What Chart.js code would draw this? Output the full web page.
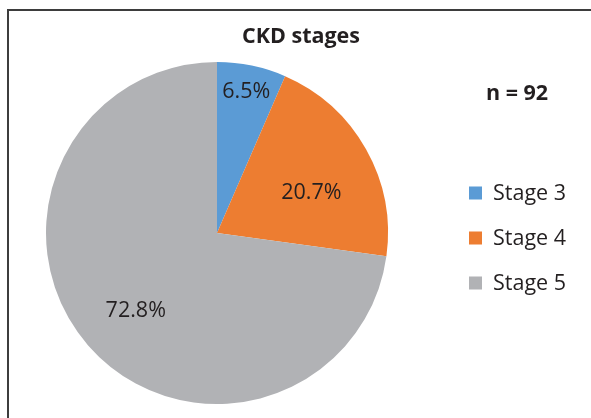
<!DOCTYPE html>
<html>
<head>
<meta charset="utf-8">
<script src="https://cdn.jsdelivr.net/npm/chart.js@4"></script>
<style>
  html, body { margin: 0; padding: 0; background: #fff; }
  #wrap { width: 591px; height: 418px; }
</style>
</head>
<body>
<div id="wrap"><canvas id="myChart" width="591" height="418"></canvas></div>
<script>
// CKD stages, n = 92
var stages = ["Stage 3", "Stage 4", "Stage 5"];
var counts = [6, 19, 67];
var pctLabels = ["6.5%", "20.7%", "72.8%"];
var sampleSize = 92;

const blue = "#5b9bd5";
const orange = "#ed7d31";
const grey = "#b1b2b5";
const textCol = "#231f20";
const font = "'Open Sans', 'Noto Sans', sans-serif";

// where each % label sits along its slice (fraction of radius), Excel "best fit"-ish
const labelRadius = [0.84, 0.6, 0.66];
const labelTurn = [0, 0.11, -0.05];

const decorations = {
  id: "decorations",
  beforeDraw(chart) {
    const ctx = chart.ctx;
    ctx.save();
    ctx.fillStyle = "#fff";
    ctx.fillRect(0, 0, chart.width, chart.height);
    // frame (top + left edge visible)
    ctx.fillStyle = "#3d3d3d";
    ctx.fillRect(7, 9, chart.width - 7, 2);
    ctx.fillRect(7, 9, 2, chart.height - 9);
    ctx.restore();
  },
  afterDraw(chart) {
    const ctx = chart.ctx;
    const meta = chart.getDatasetMeta(0);
    ctx.save();
    ctx.textAlign = "center";
    ctx.textBaseline = "middle";
    ctx.fillStyle = textCol;

    // title and n
    ctx.font = "bold 21.5px " + font;
    ctx.fillText("CKD stages", 301, 37);
    ctx.fillText("n = " + sampleSize, 517, 94);

    // slice labels
    ctx.font = "21.5px " + font;
    meta.data.forEach(function (arc, i) {
      const p = arc.getProps(["x", "y", "startAngle", "endAngle", "outerRadius"], true);
      const a = (p.startAngle + p.endAngle) / 2 + labelTurn[i];
      const r = p.outerRadius * labelRadius[i];
      ctx.fillText(pctLabels[i], p.x + Math.cos(a) * r, p.y + Math.sin(a) * r);
    });

    // legend
    const colors = chart.data.datasets[0].backgroundColor;
    ctx.textAlign = "left";
    for (let i = 0; i < stages.length; i++) {
      const y = 193 + i * 45;
      ctx.fillStyle = colors[i];
      ctx.fillRect(469, y - 6.5, 13, 13);
      ctx.fillStyle = textCol;
      ctx.fillText(stages[i], 493, y + 1);
    }
    ctx.restore();
  }
};

const config = {
  type: "pie",
  data: {
    labels: stages,
    datasets: [
      {
        data: counts,
        backgroundColor: [blue, orange, grey],
        borderWidth: 0,
      },
    ],
  },
  options: {
    responsive: false,
    animation: false,
    layout: {
      padding: { top: 62, bottom: 14, left: 46, right: 203 },
    },
    plugins: {
      legend: { display: false },
      tooltip: { enabled: false },
      title: { display: false },
    },
  },
  plugins: [decorations],
};

const myChart = new Chart(document.getElementById("myChart"), config);
</script>
</body>
</html>
